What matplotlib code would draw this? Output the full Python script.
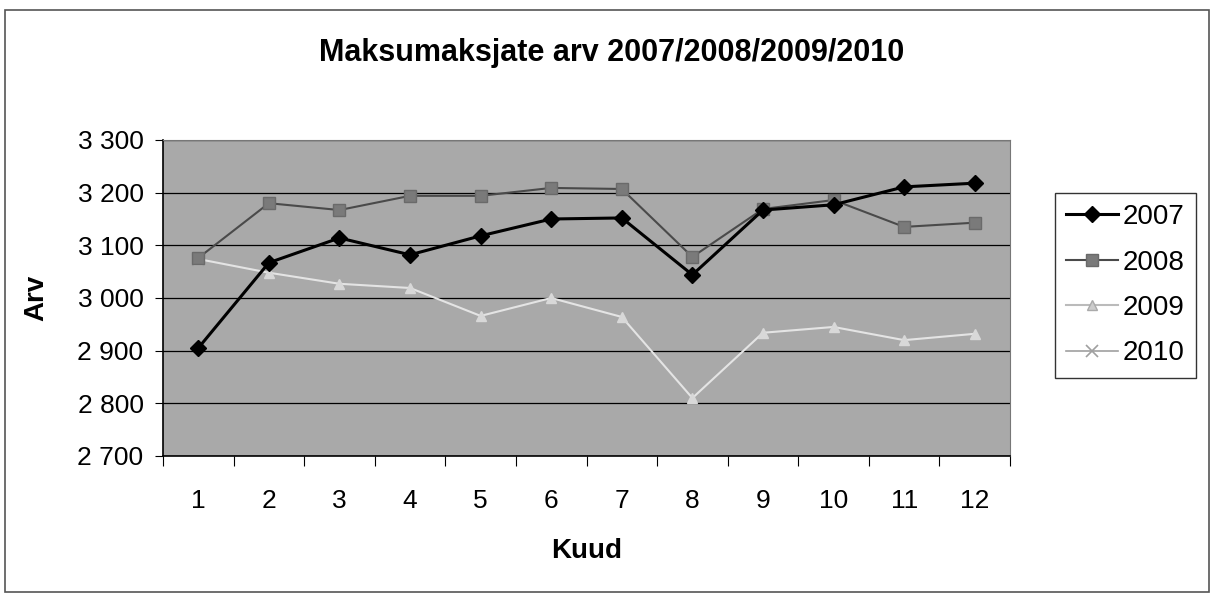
import numpy as np
import matplotlib
matplotlib.use("Agg")
import matplotlib.pyplot as plt
from matplotlib.patches import Rectangle
from matplotlib.ticker import FuncFormatter, MultipleLocator

plt.rcParams['font.family'] = ['Liberation Sans', 'DejaVu Sans']

months = list(range(1, 13))
s2007 = [2905, 3067, 3114, 3082, 3118, 3150, 3152, 3044, 3167, 3177, 3211, 3218]
s2008 = [3076, 3180, 3167, 3194, 3194, 3209, 3207, 3078, 3169, 3186, 3135, 3143]
s2009 = [3074, 3048, 3027, 3019, 2966, 3000, 2964, 2810, 2934, 2945, 2920, 2932]
s2010 = [3072] + [np.nan] * 11
title = "Maksumaksjate arv 2007/2008/2009/2010"
xlabel = "Kuud"
ylabel = "Arv"

W, H = 1211, 596
fig = plt.figure(figsize=(W / 100, H / 100), dpi=100)
ax = fig.add_axes([163 / W, 1 - 456 / H, (1010 - 163) / W, (456 - 140) / H])
ax.set_facecolor('#a9a9a9')

ax.plot(months, s2010, color='#a0a0a0', lw=1.2, marker='x', ms=9, mew=1.2, label='2010', zorder=3)
ax.plot(months, s2009, color='#e4e4e4', lw=1.5, marker='^', ms=7, mfc='#d8d8d8', mec='#d8d8d8', label='2009', zorder=4)
ax.plot(months, s2008, color='#4a4a4a', lw=1.5, marker='s', ms=8, mfc='#7a7a7a', mec='#6a6a6a', label='2008', zorder=5)
ax.plot(months, s2007, color='black', lw=2.2, marker='D', ms=8, mfc='black', mec='black', label='2007', zorder=6)

ax.set_xlim(0.5, 12.5)
ax.set_ylim(2700, 3300)
ax.yaxis.set_major_locator(MultipleLocator(100))
ax.yaxis.set_major_formatter(FuncFormatter(lambda v, p: f"{int(round(v)):,}".replace(",", " ")))
ax.set_xticks(np.arange(0.5, 13, 1))
ax.set_xticklabels([])
ax.set_xticks(months, minor=True)
ax.set_xticklabels([str(m) for m in months], minor=True)
ax.tick_params(axis='x', which='major', length=7, direction='out', color='black')
ax.tick_params(axis='x', which='minor', length=0, labelsize=19, pad=24)
ax.tick_params(axis='y', length=6, direction='out', labelsize=19, pad=8)
ax.grid(axis='y', color='black', lw=0.9)
ax.set_axisbelow(True)
for side in ['left', 'bottom']:
    ax.spines[side].set_color('black')
    ax.spines[side].set_linewidth(1.2)
for side in ['top', 'right']:
    ax.spines[side].set_color('#777777')
    ax.spines[side].set_linewidth(0.8)

ax.set_xlabel(xlabel, fontsize=20, fontweight='bold', labelpad=18)
ax.set_ylabel(ylabel, fontsize=20, fontweight='bold', labelpad=20)
fig.text(0.5 + 0.005, 1 - 53 / H, title, ha='center', va='center', fontsize=22, fontweight='bold')

handles, labels = ax.get_legend_handles_labels()
order = [3, 2, 1, 0]
leg = fig.legend([handles[i] for i in order], [labels[i] for i in order],
                 loc='upper left', bbox_to_anchor=(1055 / W, 1 - 193 / H),
                 fontsize=20, frameon=True, fancybox=False, edgecolor='black',
                 handlelength=1.85, labelspacing=0.7, borderpad=0.4, handletextpad=0.2,
                 borderaxespad=0)
leg.get_frame().set_linewidth(1.0)
lh = leg.legend_handles if hasattr(leg, 'legend_handles') else leg.legendHandles
lh[2].set_color('#bbbbbb')
lh[2].set_markerfacecolor('#cccccc')
lh[2].set_markeredgecolor('#aaaaaa')

fig.patches.append(Rectangle((5 / W, 1 - 592 / H), (1209 - 5) / W, (592 - 10) / H,
                             transform=fig.transFigure, fill=False, edgecolor='#555555', lw=1.2))

fig.savefig('out.png', dpi=100)
